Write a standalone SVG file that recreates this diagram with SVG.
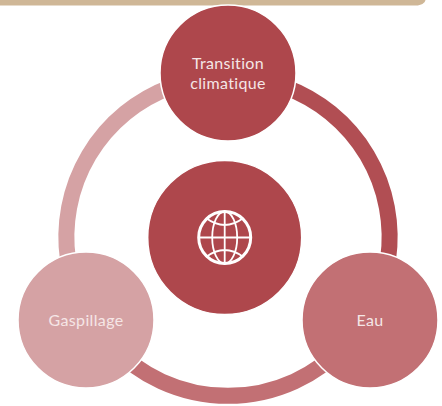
<svg xmlns="http://www.w3.org/2000/svg" width="442" height="406" viewBox="0 0 442 406">
<style>
.n{stroke:#fff;stroke-width:1.5}
.t{font-family:"Lato","Open Sans",sans-serif;font-size:16px;letter-spacing:.35px;fill:#f5e6e6;text-anchor:middle}
.a{fill:none;stroke-width:16}
.g{fill:none;stroke:#fff;stroke-width:1.8}
</style>
<rect width="442" height="406" fill="#fff"/>
<path id="band" d="M0 0H425.500V0C425 3 421 5.500 416 5.500H0Z" fill="#cfb797"/>
<g id="connectors">
<path class="a" stroke="#b14e53" d="M285 87A160 160 0 0 1 388 260"/>
<path class="a" stroke="#c27074" d="M345 345A160 160 0 0 1 111 345"/>
<path class="a" stroke="#d5a2a4" d="M68 260A160 160 0 0 1 171 87"/>
</g>
<g id="node-top"><circle class="n" cx="228" cy="73" r="68" fill="#ae474c"/>
<text class="t" x="228" y="69">Transition</text><text class="t" x="228" y="88.500">climatique</text></g>
<g id="node-center"><circle class="n" cx="224.700" cy="237.500" r="77" fill="#ae474c"/>
<g id="globe"><circle cx="224.700" cy="237.500" r="26" fill="none" stroke="#fff" stroke-width="3"/>
<ellipse class="g" cx="224.700" cy="237.500" rx="12.500" ry="26"/>
<path class="g" d="M224.700 211.500V263.500M198.700 237.500H250.700M206 218Q224.700 232 243.400 218M206 257Q224.700 243 243.400 257"/></g></g>
<g id="node-eau"><circle class="n" cx="370" cy="320" r="68" fill="#c27074"/>
<text class="t" x="370" y="325.500">Eau</text></g>
<g id="node-gaspillage"><circle class="n" cx="86" cy="320" r="68" fill="#d5a2a4"/>
<text class="t" x="86" y="325.500">Gaspillage</text></g>
</svg>
